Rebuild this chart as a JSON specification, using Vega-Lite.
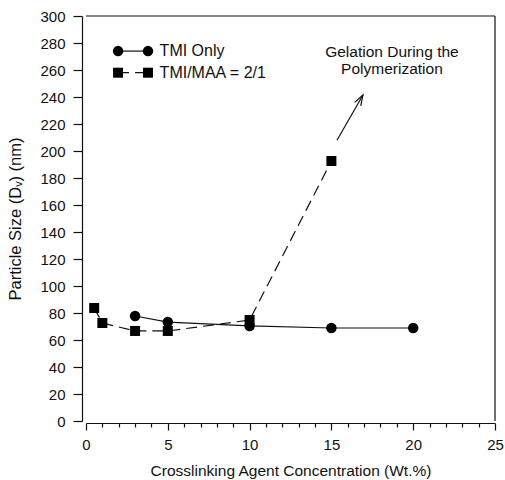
{
  "$schema": "https://vega.github.io/schema/vega-lite/v6.json",
  "width": 409,
  "height": 405,
  "autosize": {"type": "none"},
  "padding": {"left": 86, "top": 16, "right": 10, "bottom": 59},
  "config": {
    "view": {"stroke": null},
    "font": "Liberation Sans",
    "axis": {
      "domainColor": "#111",
      "tickColor": "#111",
      "labelColor": "#111",
      "titleColor": "#111",
      "labelFont": "Liberation Sans",
      "titleFont": "Liberation Sans",
      "labelFontSize": 15,
      "titleFontSize": 16.5,
      "titleFontWeight": "normal",
      "grid": false,
      "domainWidth": 1.2,
      "tickWidth": 1.2
    }
  },
  "datasets": {
    "series": [
      {"series": "TMI Only", "conc": 3, "size": 77.8},
      {"series": "TMI Only", "conc": 5, "size": 73.3},
      {"series": "TMI Only", "conc": 10, "size": 70.4},
      {"series": "TMI Only", "conc": 15, "size": 68.9},
      {"series": "TMI Only", "conc": 20, "size": 68.9},
      {"series": "TMI/MAA = 2/1", "conc": 0.5, "size": 83.7},
      {"series": "TMI/MAA = 2/1", "conc": 1, "size": 72.6},
      {"series": "TMI/MAA = 2/1", "conc": 3, "size": 66.7},
      {"series": "TMI/MAA = 2/1", "conc": 5, "size": 66.7},
      {"series": "TMI/MAA = 2/1", "conc": 10, "size": 74.8},
      {"series": "TMI/MAA = 2/1", "conc": 15, "size": 192.6}
    ],
    "key": [
      {"series": "TMI Only", "conc": 1.96, "size": 274},
      {"series": "TMI Only", "conc": 3.79, "size": 274},
      {"series": "TMI/MAA = 2/1", "conc": 1.96, "size": 258},
      {"series": "TMI/MAA = 2/1", "conc": 3.79, "size": 258}
    ],
    "keyText": [
      {"label": "TMI Only", "conc": 4.5, "size": 274},
      {"label": "TMI/MAA = 2/1", "conc": 4.5, "size": 258}
    ],
    "arrow": [
      {"conc": 15.34, "size": 208},
      {"conc": 16.93, "size": 241.5}
    ],
    "arrowTip": [
      {"conc": 16.93, "size": 241.5}
    ],
    "note": [
      {"label": "Gelation During the", "conc": 18.7, "size": 273.3},
      {"label": "Polymerization", "conc": 18.7, "size": 260.7}
    ],
    "frame": [
      {"conc": 0, "conc2": 25, "size": 300, "size2": 300},
      {"conc": 25, "conc2": 25, "size": 0, "size2": 300}
    ]
  },
  "encoding": {
    "x": {
      "field": "conc",
      "type": "quantitative",
      "scale": {"domain": [0, 25], "nice": false, "zero": false},
      "axis": {
        "title": "Crosslinking Agent Concentration (Wt.%)",
        "titleFontSize": 15.5,
        "values": [0,1,2,3,4,5,6,7,8,9,10,11,12,13,14,15,16,17,18,19,20,21,22,23,24,25],
        "labelExpr": "datum.value % 5 === 0 ? datum.label : ''",
        "tickSize": {"condition": {"test": "datum.value % 5 === 0", "value": 7}, "value": 4},
        "offset": 2,
        "labelPadding": 7,
        "titlePadding": 11,
        "labelFlush": false,
        "labelOverlap": false,
        "labelBound": false
      }
    },
    "y": {
      "field": "size",
      "type": "quantitative",
      "scale": {"domain": [0, 300], "nice": false},
      "axis": {
        "title": "Particle Size (Dᵥ) (nm)",
        "values": [0,20,40,60,80,100,120,140,160,180,200,220,240,260,280,300],
        "tickSize": 9,
        "offset": 4,
        "labelPadding": 8,
        "titlePadding": 16,
        "labelFlush": false,
        "labelOverlap": false,
        "labelBound": false
      }
    }
  },
  "layer": [
    {
      "data": {"name": "frame"},
      "mark": {"type": "rule", "color": "#111", "strokeWidth": 1.2},
      "encoding": {
        "x2": {"field": "conc2"},
        "y2": {"field": "size2"}
      }
    },
    {
      "data": {"name": "series"},
      "transform": [{"filter": "datum.series === 'TMI Only'"}],
      "mark": {"type": "line", "color": "#111", "strokeWidth": 1.2},
      "encoding": {}
    },
    {
      "data": {"name": "series"},
      "transform": [{"filter": "datum.series !== 'TMI Only'"}],
      "mark": {"type": "line", "color": "#111", "strokeWidth": 1.2, "strokeDash": [11, 6]},
      "encoding": {}
    },
    {
      "data": {"name": "series"},
      "transform": [{"filter": "datum.series === 'TMI Only'"}],
      "mark": {"type": "point", "shape": "circle", "filled": true, "color": "#000", "opacity": 1, "size": 110}
    },
    {
      "data": {"name": "series"},
      "transform": [{"filter": "datum.series !== 'TMI Only'"}],
      "mark": {"type": "point", "shape": "square", "filled": true, "color": "#000", "opacity": 1, "size": 100}
    },
    {
      "data": {"name": "key"},
      "transform": [{"filter": "datum.series === 'TMI Only'"}],
      "mark": {"type": "line", "color": "#111", "strokeWidth": 1.2, "point": {"filled": true, "shape": "circle", "size": 110, "color": "#000", "opacity": 1}},
      "encoding": {}
    },
    {
      "data": {"name": "key"},
      "transform": [{"filter": "datum.series !== 'TMI Only'"}],
      "mark": {"type": "line", "color": "#111", "strokeWidth": 1.2, "strokeDash": [11, 6], "point": {"filled": true, "shape": "square", "size": 100, "color": "#000", "opacity": 1}},
      "encoding": {}
    },
    {
      "data": {"name": "keyText"},
      "mark": {"type": "text", "align": "left", "baseline": "middle", "fontSize": 16, "color": "#111", "font": "Liberation Sans"},
      "encoding": {"text": {"field": "label"}}
    },
    {
      "data": {"name": "arrow"},
      "mark": {"type": "line", "color": "#111", "strokeWidth": 1.2},
      "encoding": {}
    },
    {
      "data": {"name": "arrowTip"},
      "mark": {"type": "point", "shape": "M -0.5 1.5 L 0 0 L 0.5 1.5", "filled": false, "color": "#111", "strokeWidth": 1.2, "opacity": 1, "size": 200, "angle": 30}
    },
    {
      "data": {"name": "note"},
      "mark": {"type": "text", "align": "center", "baseline": "middle", "fontSize": 15.5, "color": "#111", "font": "Liberation Sans"},
      "encoding": {"text": {"field": "label"}}
    }
  ]
}
